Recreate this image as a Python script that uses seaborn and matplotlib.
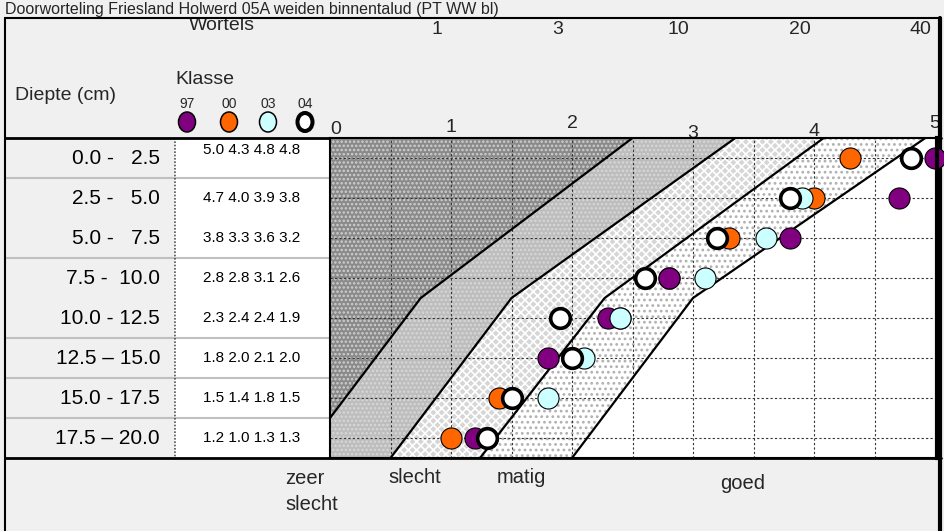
import matplotlib
matplotlib.use("Agg")
import matplotlib.pyplot as plt
from matplotlib.patches import Rectangle, Ellipse
import pandas as pd
import seaborn as sns

# ---- data -------------------------------------------------------------
title = "Doorworteling Friesland Holwerd 05A weiden binnentalud (PT WW bl)"
depth_labels = ["0.0 -   2.5", "2.5 -   5.0", "5.0 -   7.5", "7.5 -  10.0",
                "10.0 - 12.5", "12.5 – 15.0", "15.0 - 17.5", "17.5 – 20.0"]
depth_mid = [1.25, 3.75, 6.25, 8.75, 11.25, 13.75, 16.25, 18.75]

years = ["97", "00", "03", "04"]
klasse_97 = [5.0, 4.7, 3.8, 2.8, 2.3, 1.8, 1.5, 1.2]
klasse_00 = [4.3, 4.0, 3.3, 2.8, 2.4, 2.0, 1.4, 1.0]
klasse_03 = [4.8, 3.9, 3.6, 3.1, 2.4, 2.1, 1.8, 1.3]
klasse_04 = [4.8, 3.8, 3.2, 2.6, 1.9, 2.0, 1.5, 1.3]

klasse_ticks = [0, 1, 2, 3, 4, 5]
wortels_ticks = ["1", "3", "10", "20", "40"]
zone_names = ["zeer\nslecht", "slecht", "matig", "goed"]

# zone boundaries: klasse value at depth 0, 10 and 20 cm
boundary_depths = [0, 10, 20]
boundary_1 = [2.5, 0.75, -0.25]
boundary_2 = [3.35, 1.5, 0.5]
boundary_3 = [4.08, 2.27, 1.24]
boundary_4 = [4.92, 3.0, 2.0]

# ---- styling ----------------------------------------------------------
sns.set_theme(style="white")
plt.rcParams["font.family"] = ["Liberation Sans", "DejaVu Sans"]
plt.rcParams["hatch.linewidth"] = 1.2

W, H = 944, 531
BG = "#f0f0f0"
fig = plt.figure(figsize=(W / 100, H / 100), dpi=100, facecolor=BG)

# pixel-space frame for the table, header and borders
frame = fig.add_axes([0, 0, 1, 1])
frame.set_xlim(0, W)
frame.set_ylim(H, 0)
frame.axis("off")
frame.set_facecolor("none")

# chart area
x0, x1, y0, y1 = 330, 937, 138, 458
px_per_klasse = 121
ax = fig.add_axes([x0 / W, 1 - y1 / H, (x1 - x0) / W, (y1 - y0) / H])
ax.set_xlim(0, (x1 - x0) / px_per_klasse)
ax.set_ylim(20, 0)
ax.set_facecolor("white")

zones = [
    (-0.5, boundary_1, "#8a8a8a", "#d0d0d0", "...."),
    (boundary_1, boundary_2, "#bdbdbd", "#d8d8d8", "...."),
    (boundary_2, boundary_3, "#d6d6d6", "white", "xxxx"),
    (boundary_3, boundary_4, "white", "#b0b0b0", "..."),
]
for left, right, face, hatch_col, hatch in zones:
    ax.fill_betweenx(boundary_depths, left, right, facecolor=face,
                     edgecolor=hatch_col, hatch=hatch, linewidth=0, zorder=1)

# dashed grid
for gx in [i * 0.5 for i in range(1, 10)]:
    ax.axvline(gx, color="#333333", lw=0.8, ls=(0, (2, 2)), zorder=2)
for gy in depth_mid:
    ax.axhline(gy, color="#333333", lw=0.8, ls=(0, (2, 2)), zorder=2)

for b in [boundary_1, boundary_2, boundary_3, boundary_4]:
    ax.plot(b, boundary_depths, color="black", lw=1.6, zorder=3)

# observations
df = pd.DataFrame({
    "klasse": klasse_97 + klasse_00 + klasse_03 + klasse_04,
    "diepte": depth_mid * 4,
    "jaar": sum([[y] * len(depth_mid) for y in years], []),
})
point_style = {
    "97": ("#800080", 0.8),
    "00": ("#ff6600", 0.8),
    "03": ("#ccffff", 0.8),
    "04": ("white", 2.6),
}
for jaar in ["00", "97", "03", "04"]:
    color, lw = point_style[jaar]
    sns.scatterplot(data=df[df["jaar"] == jaar], x="klasse", y="diepte",
                    color=color, edgecolor="black", linewidth=lw,
                    s=230 if jaar != "04" else 200, zorder=5, clip_on=False,
                    ax=ax, legend=False)

ax.set_xlabel("")
ax.set_ylabel("")
ax.set_xticks([])
ax.set_yticks([])
for name, sp in ax.spines.items():
    sp.set_color("black")
    sp.set_linewidth(1.5)
    sp.set_zorder(6)
ax.spines["right"].set_linewidth(3)

# ---- table columns ----------------------------------------------------
frame.add_patch(Rectangle((175, y0), x0 - 175, y1 - y0, facecolor="white",
                          edgecolor="none", zorder=0))
for sy in [178, 258, 338, 378, 418]:
    frame.plot([5, x0], [sy, sy], color="#c0c0c0", lw=1.5, zorder=1)
frame.plot([175, 175], [y0, y1], color="#555555", lw=1.2,
           ls=(0, (1, 1)), zorder=1)

vals = list(zip(klasse_97, klasse_00, klasse_03, klasse_04))
for i, (lab, row) in enumerate(zip(depth_labels, vals)):
    cy = y0 + 20 + 40 * i
    frame.text(160, cy, lab, ha="right", va="center", fontsize=15,
               color="black")
    ty = cy - 8 if i == 0 else cy
    frame.text(252, ty, " ".join(f"{v:.1f}" for v in row), ha="center",
               va="center", fontsize=11, color="black")

# ---- header -----------------------------------------------------------
frame.text(5, 14, title, ha="left", va="baseline", fontsize=11.5)
frame.text(222, 26, "Wortels", ha="center", va="center", fontsize=14)
for k, lab in zip(klasse_ticks[1:], wortels_ticks):
    frame.text(x0 + (k - 0.12) * px_per_klasse, 29, lab, ha="center",
               va="center", fontsize=14)
frame.text(15, 95, "Diepte (cm)", ha="left", va="center", fontsize=14)
frame.text(175, 80, "Klasse", ha="left", va="center", fontsize=14)

tick_dy = [3, 2, -3, 7, 5, -2]
for k, dy in zip(klasse_ticks, tick_dy):
    frame.text(x0 + k * px_per_klasse + (6 if k == 0 else 0), 126 + dy,
               str(k), ha="center", va="center", fontsize=14)

legend_x = [187, 229, 268, 305]
for jaar, lx in zip(years, legend_x):
    color, lw = point_style[jaar]
    frame.add_patch(Ellipse((lx, 122), 15 if jaar == "04" else 17,
                            18 if jaar == "04" else 20, facecolor=color,
                            edgecolor="black", lw=lw + 0.3, zorder=3))
    frame.text(lx, 104, jaar, ha="center", va="center", fontsize=10)

# ---- zone names below the chart --------------------------------------
zone_x = [285, 388, 497, 720]
zone_y = [469, 468, 468, 474]
for name, zx, zy in zip(zone_names, zone_x, zone_y):
    frame.text(zx, zy, name, ha="left", va="top", fontsize=14.5,
               linespacing=1.45)

# ---- borders ----------------------------------------------------------
frame.plot([5, 5], [18, H], color="black", lw=1.5, zorder=4)
frame.plot([5, 941], [18, 18], color="black", lw=1.5, zorder=4)
frame.plot([940, 940], [18, H], color="black", lw=3, zorder=4)
frame.plot([5, 941], [y0, y0], color="black", lw=2, zorder=4)
frame.plot([5, 941], [y1, y1], color="black", lw=2, zorder=4)

fig.savefig("out.png", dpi=100, facecolor=BG)
